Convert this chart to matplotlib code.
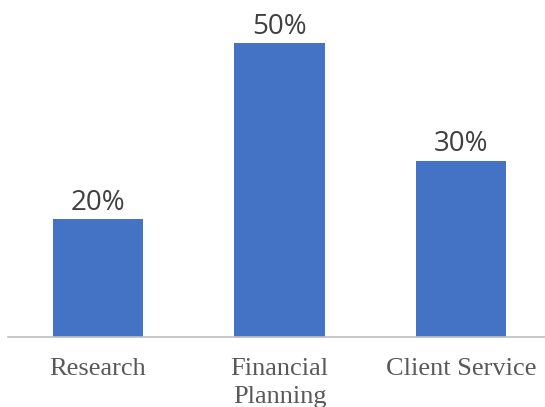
import matplotlib
matplotlib.use("Agg")
import matplotlib.pyplot as plt

categories = ["Research", "Financial\nPlanning", "Client Service"]
values = [20, 50, 30]
labels = ["20%", "50%", "30%"]

fig = plt.figure(figsize=(5.45, 4.07), dpi=100)
ax = fig.add_axes([8 / 545, 70 / 407, 537 / 545, 337 / 407])

x = range(len(categories))
bars = ax.bar(x, values, width=0.5, color="#4472C4")

for b, lab in zip(bars, labels):
    ax.annotate(lab, (b.get_x() + b.get_width() / 2, b.get_height()),
                xytext=(0, 1.5), textcoords="offset points",
                ha="center", va="bottom", fontsize=20,
                family="Open Sans", color="#404040")

ax.set_xlim(-0.496, 2.463)
ax.set_ylim(0, 57.3)
ax.set_xticks(list(x))
ax.set_xticklabels(categories, family="Liberation Serif", fontsize=19,
                   color="#595959", linespacing=1.35)
ax.tick_params(axis="x", length=0, pad=15)
ax.set_yticks([])
for s in ["top", "right", "left"]:
    ax.spines[s].set_visible(False)
ax.spines["bottom"].set_color("#BFBFBF")
ax.spines["bottom"].set_linewidth(1.2)

fig.savefig("out.png", dpi=100)
